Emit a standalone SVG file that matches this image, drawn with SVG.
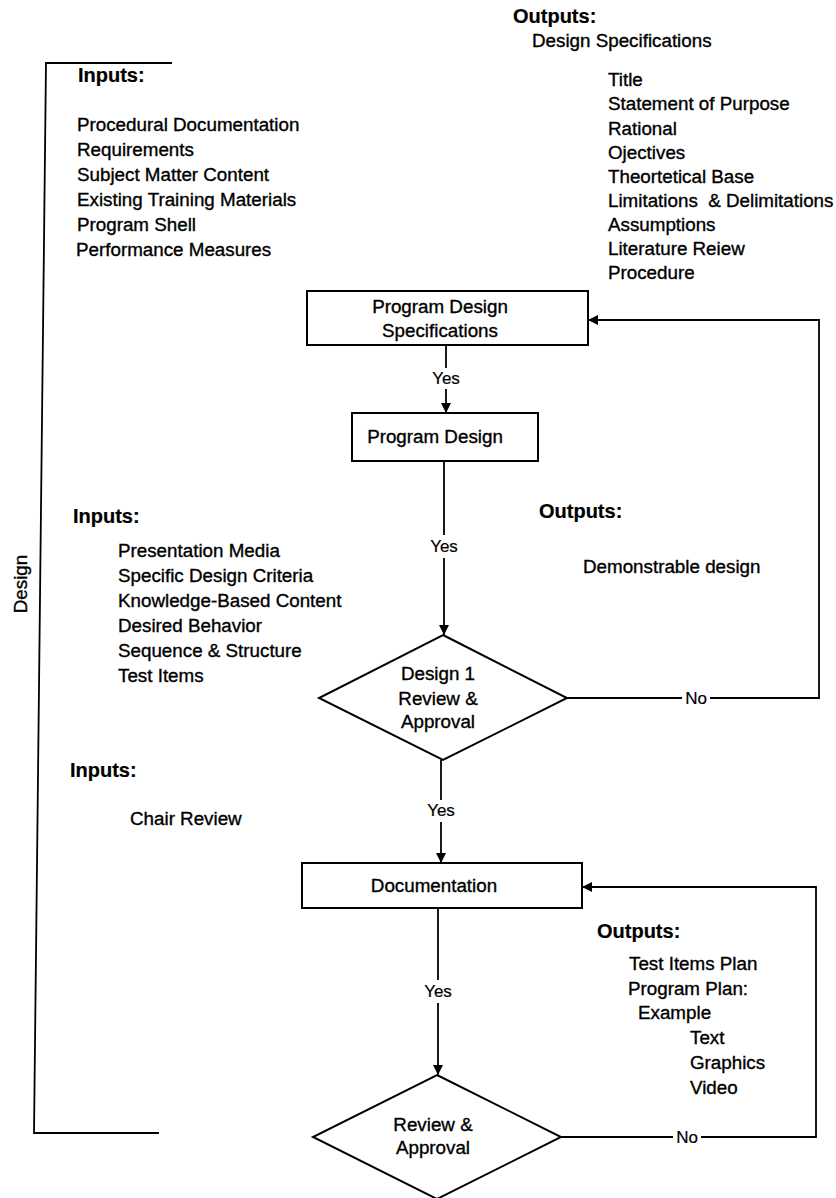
<svg xmlns="http://www.w3.org/2000/svg" width="836" height="1198" viewBox="0 0 836 1198">
<style>
text{font-family:"Liberation Sans",Arial,sans-serif;font-size:18.8px;fill:#000;stroke:#000;stroke-width:0.35px}
.h{font-weight:bold;font-size:20px;stroke-width:0.2px}
.l{font-size:17px;stroke-width:0.2px}
.c{text-anchor:middle}
.shape{fill:#fff;stroke:#000;stroke-width:2}
.ln{fill:none;stroke:#000;stroke-width:1.8}
</style>
<defs>
<marker id="ah" viewBox="0 0 10 10" refX="10" refY="5" markerWidth="10" markerHeight="10" markerUnits="userSpaceOnUse" orient="auto">
<path d="M0,0 L10,5 L0,10 z" fill="#000"/>
</marker>
</defs>
<rect width="836" height="1198" fill="#fff"/>

<g id="design-bracket">
<path class="ln" d="M172,63 L46,63 L34,1133 L159,1133" stroke-width="2"/>
<text class="c" transform="translate(27,584) rotate(-90)">Design</text>
</g>

<g id="inputs-1">
<text class="h" x="78" y="82">Inputs:</text>
<text x="77" y="131">Procedural Documentation</text>
<text x="77" y="156">Requirements</text>
<text x="77" y="181">Subject Matter Content</text>
<text x="77" y="206">Existing Training Materials</text>
<text x="77" y="231">Program Shell</text>
<text x="76" y="256">Performance Measures</text>
</g>

<g id="outputs-1">
<text class="h" x="513" y="23">Outputs:</text>
<text x="532" y="47">Design Specifications</text>
<text x="608" y="86">Title</text>
<text x="608" y="110">Statement of Purpose</text>
<text x="608" y="135">Rational</text>
<text x="608" y="159">Ojectives</text>
<text x="608" y="183">Theortetical Base</text>
<text x="608" y="207" style="white-space:pre">Limitations  &amp; Delimitations</text>
<text x="608" y="231">Assumptions</text>
<text x="608" y="255">Literature Reiew</text>
<text x="608" y="279">Procedure</text>
</g>

<g id="inputs-2">
<text class="h" x="73" y="523">Inputs:</text>
<text x="118" y="557">Presentation Media</text>
<text x="118" y="582">Specific Design Criteria</text>
<text x="118" y="607">Knowledge-Based Content</text>
<text x="118" y="632">Desired Behavior</text>
<text x="118" y="657">Sequence &amp; Structure</text>
<text x="118" y="682">Test Items</text>
</g>

<g id="outputs-2">
<text class="h" x="539" y="518">Outputs:</text>
<text x="583" y="573">Demonstrable design</text>
</g>

<g id="inputs-3">
<text class="h" x="70" y="777">Inputs:</text>
<text x="130" y="825">Chair Review</text>
</g>

<g id="outputs-3">
<text class="h" x="597" y="938">Outputs:</text>
<text x="629" y="970">Test Items Plan</text>
<text x="628" y="995">Program Plan:</text>
<text x="638" y="1019">Example</text>
<text x="690" y="1044">Text</text>
<text x="690" y="1069">Graphics</text>
<text x="690" y="1094">Video</text>
</g>

<g id="connectors">
<line class="ln" x1="446" y1="345" x2="446" y2="368"/>
<line class="ln" x1="446" y1="389" x2="446" y2="413" marker-end="url(#ah)"/>
<text class="l c" x="446" y="384">Yes</text>

<line class="ln" x1="444" y1="461" x2="444" y2="535"/>
<line class="ln" x1="444" y1="558" x2="444" y2="635" marker-end="url(#ah)"/>
<text class="l c" x="444" y="552">Yes</text>

<line class="ln" x1="441" y1="760" x2="441" y2="800"/>
<line class="ln" x1="441" y1="822" x2="441" y2="863" marker-end="url(#ah)"/>
<text class="l c" x="441" y="816">Yes</text>

<line class="ln" x1="438" y1="908" x2="438" y2="980"/>
<line class="ln" x1="438" y1="1003" x2="438" y2="1075" marker-end="url(#ah)"/>
<text class="l c" x="438" y="997">Yes</text>

<line class="ln" x1="567" y1="698" x2="682" y2="698"/>
<path class="ln" d="M710,698 H819 V320 H588" marker-end="url(#ah)"/>
<text class="l c" x="696" y="704">No</text>

<line class="ln" x1="561" y1="1137" x2="673" y2="1137"/>
<path class="ln" d="M701,1137 H816 V887 H582" marker-end="url(#ah)"/>
<text class="l c" x="687" y="1143">No</text>
</g>

<g id="node-program-design-specifications">
<rect class="shape" x="307" y="291" width="281" height="54"/>
<text class="c" x="440" y="313">Program Design</text>
<text class="c" x="440" y="337">Specifications</text>
</g>

<g id="node-program-design">
<rect class="shape" x="352" y="413" width="186" height="48"/>
<text class="c" x="435" y="443">Program Design</text>
</g>

<g id="node-design1-review">
<polygon class="shape" points="443,635 567,698 443,760 319,698"/>
<text class="c" x="438" y="680">Design 1</text>
<text class="c" x="438" y="705">Review &amp;</text>
<text class="c" x="438" y="728">Approval</text>
</g>

<g id="node-documentation">
<rect class="shape" x="302" y="863" width="280" height="45"/>
<text class="c" x="434" y="892">Documentation</text>
</g>

<g id="node-review-approval">
<polygon class="shape" points="437,1075 561,1137 437,1199 313,1137"/>
<text class="c" x="433" y="1131">Review &amp;</text>
<text class="c" x="433" y="1154">Approval</text>
</g>
</svg>
